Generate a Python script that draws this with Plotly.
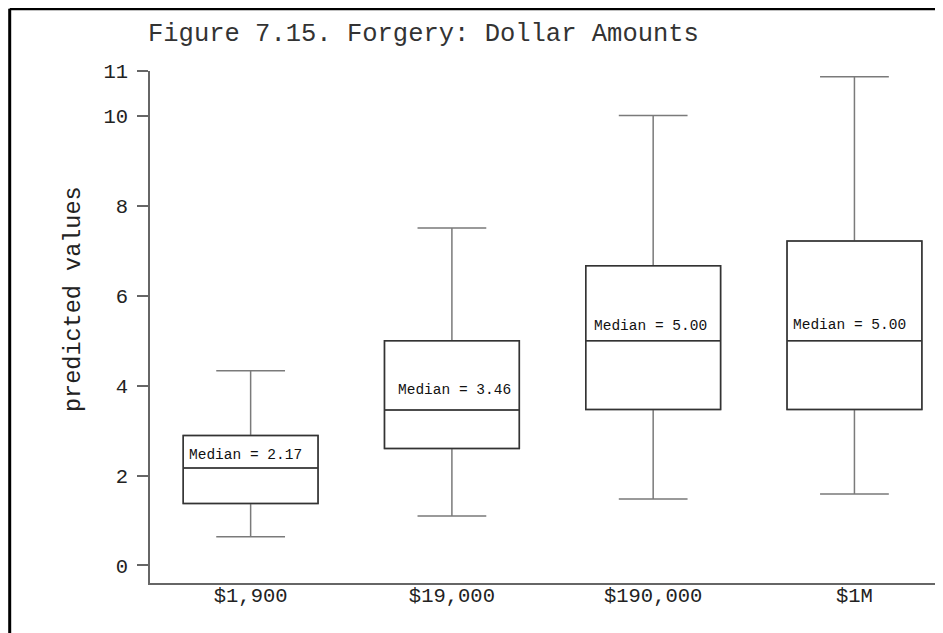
import plotly.graph_objects as go

categories = ["$1,900", "$19,000", "$190,000", "$1M"]
lower_whisker = [0.64, 1.10, 1.48, 1.59]
q1_values = [1.38, 2.60, 3.47, 3.47]
median_values = [2.17, 3.46, 5.00, 5.00]
q3_values = [2.89, 5.00, 6.67, 7.22]
upper_whisker = [4.33, 7.51, 10.01, 10.87]
y_tick_values = [0, 2, 4, 6, 8, 10, 11]
title_text = "Figure 7.15. Forgery: Dollar Amounts"
y_title = "predicted values"

# page body adds 8px offset; figure sized to fill the rest of the window
W, H = 935, 625
ML, MR, MT, MB = 142, 0, 63, 50
BOX_W = 0.67
FONT = "Liberation Mono, Cousine, DejaVu Sans Mono, monospace"

fig = go.Figure()
# whiskers (gray)
fig.add_trace(go.Box(
    x=categories, q1=q1_values, median=median_values, q3=q3_values,
    lowerfence=lower_whisker, upperfence=upper_whisker,
    width=BOX_W, whiskerwidth=0.51,
    fillcolor="rgba(0,0,0,0)", line=dict(color="#7a7a7a", width=1.5),
    hoverinfo="skip", showlegend=False,
))
# box + median (dark)
fig.add_trace(go.Box(
    x=categories, q1=q1_values, median=median_values, q3=q3_values,
    lowerfence=q1_values, upperfence=q3_values,
    width=BOX_W, whiskerwidth=0.0,
    fillcolor="rgba(0,0,0,0)", line=dict(color="#333333", width=1.5),
    hoverinfo="skip", showlegend=False,
))

label_dx = [4, 12, 6, 4]
label_dy = [13, 20, 15, 16]
for i, m in enumerate(median_values):
    fig.add_annotation(
        x=i - BOX_W / 2, y=m, xref="x", yref="y",
        text=f"Median = {m:.2f}", showarrow=False,
        xanchor="left", yanchor="middle",
        xshift=label_dx[i], yshift=label_dy[i],
        font=dict(family=FONT, size=14.5, color="#111"),
    )

plot_w = W - ML - MR
plot_h = H - MT - MB
def px_x(p):
    return (p - ML) / plot_w
def px_y(p):
    return (H - MB - p) / plot_h

# y-axis title as rotated annotation
fig.add_annotation(
    x=px_x(65), y=px_y(291), xref="paper", yref="paper",
    text=y_title, textangle=-90, showarrow=False,
    xanchor="center", yanchor="middle",
    font=dict(family=FONT, size=23.5, color="#222"),
)

fig.add_shape(type="line", xref="paper", yref="paper",
              x0=px_x(1.7), y0=px_y(0.7), x1=px_x(W + 2), y1=px_y(0.7),
              line=dict(color="black", width=3))
fig.add_shape(type="line", xref="paper", yref="paper",
              x0=px_x(1.7), y0=px_y(0.7), x1=px_x(1.7), y1=px_y(H + 2),
              line=dict(color="black", width=3))

fig.update_layout(
    width=W, height=H,
    margin=dict(l=ML, r=MR, t=MT, b=MB),
    paper_bgcolor="white", plot_bgcolor="white",
    boxmode="overlay",
    font=dict(family=FONT, color="#111"),
    title=dict(text=title_text, xref="container", yref="container",
               x=140 / W, y=1 - 24 / H, xanchor="left", yanchor="middle",
               font=dict(family=FONT, size=25.5, color="#333")),
    xaxis=dict(
        range=[-0.5, 3.44], showgrid=False, zeroline=False,
        showline=True, linecolor="#666", linewidth=1.5,
        ticks="", ticklabelstandoff=-7,
        tickfont=dict(family=FONT, size=20.5, color="#222"),
    ),
    yaxis=dict(
        range=[-0.39, 11], showgrid=False, zeroline=False,
        showline=True, linecolor="#666", linewidth=1.5,
        tickvals=y_tick_values, ticktext=[str(v) for v in y_tick_values],
        ticks="outside", ticklen=11, tickwidth=1.5, tickcolor="#666",
        ticklabelstandoff=5,
        tickfont=dict(family=FONT, size=20.5, color="#222"),
    ),
)

fig.write_html("out.html")
